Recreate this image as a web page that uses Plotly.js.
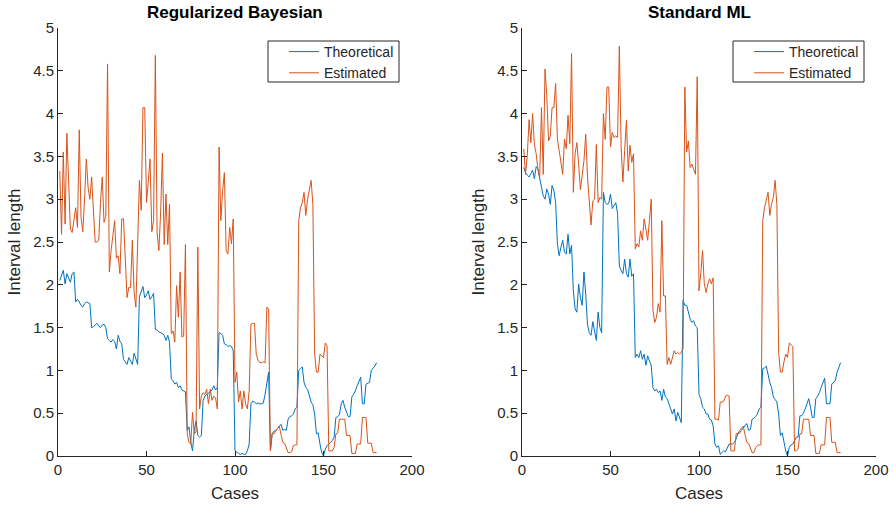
<!DOCTYPE html>
<html>
<head>
<meta charset="utf-8">
<script src="https://cdn.plot.ly/plotly-3.0.1.min.js"></script>
<style>html,body{margin:0;padding:0;background:#fff;}#chart{width:894px;height:506px;}</style>
</head>
<body>
<div id="chart"></div>
<script>
// Regularized Bayesian - Theoretical
const bayesTheoretical = [
 2.05,2.12,2.17,2.01,2.13,2.08,2.03,2.13,2.15,1.80,
 1.83,1.80,1.76,1.74,1.78,1.80,1.79,1.78,1.50,1.51,
 1.53,1.55,1.52,1.50,1.53,1.54,1.50,1.37,1.35,1.33,
 1.36,1.34,1.25,1.41,1.34,1.31,1.13,1.10,1.07,1.15,
 1.10,1.07,1.20,1.12,1.07,1.86,1.92,1.98,1.85,1.88,
 1.93,1.83,1.86,1.90,1.48,1.47,1.45,1.44,1.43,1.41,
 1.35,1.41,1.33,0.90,0.88,0.84,0.86,0.80,0.82,0.77,
 0.76,0.75,0.30,0.34,0.16,0.06,0.30,0.41,0.24,0.22,
 0.24,0.65,0.70,0.72,0.74,0.76,0.77,0.82,0.77,0.80,
 1.44,1.43,1.41,1.31,1.30,1.28,1.29,1.28,1.23,0.06,
 0.04,0.03,0.02,0.03,0.02,0.02,0.06,0.14,0.61,0.64,
 0.63,0.61,0.62,0.61,0.61,0.62,0.72,0.84,0.98,0.06,
 0.26,0.29,0.30,0.32,0.35,0.37,0.30,0.31,0.30,0.43,
 0.46,0.47,0.49,0.55,0.57,1.00,1.02,1.04,0.86,0.80,
 0.78,0.69,0.63,0.60,0.49,0.26,0.27,0.14,0.04,0.00,
 0.08,0.12,0.14,0.16,0.18,0.22,0.45,0.46,0.48,0.61,
 0.65,0.57,0.50,0.46,0.46,0.69,0.72,0.76,0.82,0.88,
 0.92,0.61,0.61,0.84,0.85,0.86,1.00,1.02,1.05,1.09];

// Regularized Bayesian - Estimated
const bayesEstimated = [
 3.33,2.59,3.55,2.71,3.77,3.06,2.65,2.61,2.75,2.90,
 2.67,3.81,2.79,2.62,3.00,3.47,3.14,3.00,3.26,2.90,
 2.50,2.50,2.52,2.96,3.26,2.73,2.80,4.58,2.15,2.40,
 2.55,2.75,2.31,2.34,2.13,2.77,2.77,2.20,1.85,1.97,
 1.97,2.52,1.91,1.74,2.40,3.22,2.87,4.07,4.07,2.96,
 3.20,3.47,2.62,2.75,4.68,2.60,2.40,2.85,3.54,2.47,
 3.06,2.47,2.94,1.43,1.46,1.33,1.99,1.62,2.15,1.39,
 1.40,2.47,0.26,0.16,0.14,0.51,0.26,0.28,2.44,0.55,
 0.70,0.74,0.72,0.78,0.61,0.78,0.65,0.70,0.68,0.55,
 3.61,2.75,3.10,3.31,2.40,2.36,2.67,2.48,2.77,0.86,
 0.98,0.63,0.76,0.55,0.76,0.61,0.55,0.76,1.54,1.55,
 1.55,1.19,1.12,1.09,1.09,1.10,1.09,1.74,1.72,0.06,
 0.26,0.26,0.29,0.32,0.35,0.25,0.16,0.15,0.10,0.04,
 0.04,0.05,0.12,0.13,0.13,2.75,2.90,2.96,3.08,2.81,
 3.00,3.10,3.22,2.94,1.19,0.98,0.98,1.19,1.17,1.15,
 1.32,1.29,0.06,0.06,0.06,0.10,0.26,0.27,0.43,0.43,
 0.43,0.43,0.24,0.24,0.24,0.03,0.03,0.03,0.14,0.14,
 0.14,0.45,0.45,0.45,0.15,0.15,0.15,0.04,0.04,0.04];

// Standard ML - Theoretical
const mlTheoretical = [
 3.37,3.31,3.28,3.26,3.30,3.34,3.24,3.38,3.35,3.26,
 3.14,3.04,3.00,3.12,3.06,2.94,3.16,3.10,2.96,2.48,
 2.34,2.44,2.52,2.38,2.36,2.59,2.36,2.46,1.93,1.72,
 1.68,2.01,1.85,1.76,2.15,1.89,1.54,1.44,1.41,1.57,
 1.43,1.35,1.68,1.50,1.44,3.08,2.96,2.94,2.95,3.06,
 2.89,2.92,2.96,2.83,2.22,2.17,2.13,2.30,2.13,2.09,
 2.30,2.10,2.13,1.15,1.19,1.15,1.23,1.13,1.19,1.06,
 1.17,1.11,1.06,0.80,0.76,0.78,0.74,0.76,0.65,0.78,
 0.69,0.67,0.61,0.55,0.49,0.55,0.41,0.51,0.45,0.39,
 1.82,1.76,1.76,1.66,1.60,1.56,1.58,1.52,1.50,0.72,
 0.67,0.57,0.55,0.49,0.49,0.43,0.42,0.35,0.14,0.10,
 0.12,0.02,0.04,0.06,0.05,0.09,0.14,0.14,0.14,0.16,
 0.20,0.26,0.27,0.30,0.33,0.35,0.38,0.30,0.31,0.43,
 0.44,0.46,0.49,0.55,0.57,1.02,1.03,1.05,0.95,0.86,
 0.80,0.69,0.66,0.63,0.49,0.24,0.27,0.14,0.06,0.00,
 0.10,0.13,0.14,0.18,0.22,0.22,0.47,0.47,0.50,0.55,
 0.61,0.67,0.57,0.45,0.45,0.67,0.70,0.74,0.80,0.86,
 0.91,0.61,0.61,0.61,0.84,0.86,0.88,0.98,1.05,1.09];

// Standard ML - Estimated
const mlEstimated = [
 3.59,3.29,3.51,3.93,3.66,4.00,3.64,3.53,3.35,3.26,
 4.07,3.29,4.52,4.21,3.68,3.74,4.07,4.07,4.35,3.70,
 3.57,3.40,3.29,3.70,3.59,3.98,3.65,4.70,3.08,3.53,
 3.66,3.41,3.11,3.28,3.45,3.76,3.26,2.98,2.70,2.98,
 3.00,3.64,2.96,3.02,3.00,4.00,3.70,4.31,4.31,3.61,
 3.78,3.72,3.74,3.72,4.79,3.61,3.20,3.57,3.92,3.33,
 3.63,3.43,3.53,2.42,2.48,2.44,2.63,2.52,2.77,2.65,
 2.52,2.75,3.00,1.70,1.56,1.62,1.78,1.68,2.75,1.87,
 1.87,1.07,1.15,1.07,1.17,1.23,1.19,1.21,1.19,1.21,
 1.25,4.31,3.55,3.68,3.37,3.41,3.35,3.29,4.43,1.93,
 2.13,2.40,2.01,1.91,2.01,2.07,2.01,2.08,0.43,0.43,
 0.42,0.63,0.63,0.64,0.70,0.71,0.70,0.06,0.06,0.06,
 0.26,0.26,0.30,0.33,0.35,0.25,0.16,0.15,0.10,0.04,
 0.04,0.10,0.12,0.13,0.13,2.75,2.90,2.98,3.08,2.81,
 2.95,3.02,3.22,2.94,1.21,0.98,0.98,1.10,1.19,1.15,
 1.32,1.30,1.28,0.06,0.06,0.08,0.26,0.26,0.43,0.43,
 0.43,0.43,0.24,0.24,0.24,0.03,0.03,0.03,0.13,0.13,
 0.13,0.45,0.45,0.45,0.16,0.16,0.16,0.04,0.04,0.04];

const seriesNames = ['Theoretical', 'Estimated'];
const panelTitles = ['Regularized Bayesian', 'Standard ML'];
const xTicks = [0, 50, 100, 150, 200];
const yTicks = [0, 0.5, 1, 1.5, 2, 2.5, 3, 3.5, 4, 4.5, 5];

const BLUE = '#0072BD', ORANGE = '#D95319', INK = '#262626';
const FONT = 'Liberation Sans, Arial, Helvetica, sans-serif';

function line(y, name, color, xa, ya, leg) {
  return {type: 'scatter', mode: 'lines', x0: 1, dx: 1, y: y, name: name,
    xaxis: xa, yaxis: ya, legend: leg,
    line: {color: color, width: 1}, hoverinfo: 'skip'};
}

const traces = [
  line(bayesTheoretical, seriesNames[0], BLUE, 'x', 'y', 'legend'),
  line(bayesEstimated, seriesNames[1], ORANGE, 'x', 'y', 'legend'),
  line(mlTheoretical, seriesNames[0], BLUE, 'x2', 'y2', 'legend2'),
  line(mlEstimated, seriesNames[1], ORANGE, 'x2', 'y2', 'legend2')
];

const W = 894, H = 506;
function xax(d0, d1, anchor) {
  return {domain: [d0 / W, d1 / W], anchor: anchor, range: [0, 200], tickvals: xTicks,
    ticks: 'inside', ticklen: 5, tickwidth: 1, tickcolor: INK, showline: true, linecolor: INK,
    linewidth: 1, mirror: false, showgrid: false, zeroline: false,
    tickfont: {size: 15, color: INK, family: FONT},
    title: {text: 'Cases', font: {size: 17, color: INK, family: FONT}, standoff: 10},
    automargin: false};
}
function yax(anchor) {
  return {domain: [1 - 456 / H, 1 - 28 / H], anchor: anchor, range: [0, 5], tickvals: yTicks,
    ticktext: yTicks.map(String),
    ticks: 'inside', ticklen: 5, tickwidth: 1, tickcolor: INK, showline: true, linecolor: INK,
    linewidth: 1, mirror: false, showgrid: false, zeroline: false,
    tickfont: {size: 15, color: INK, family: FONT},
    title: {text: 'Interval length', font: {size: 17, color: INK, family: FONT}, standoff: 8},
    automargin: false};
}
function leg(xpx) {
  return {x: xpx / W, y: 1 - 36 / H, xanchor: 'left', yanchor: 'top', bgcolor: 'rgba(0,0,0,0)',
    borderwidth: 0, font: {size: 14, color: INK, family: FONT},
    tracegroupgap: 0, traceorder: 'normal'};
}
function box(x0, x1) {
  return {type: 'rect', xref: 'paper', yref: 'paper', x0: x0 / W, x1: x1 / W,
    y0: 1 - 82 / H, y1: 1 - 41 / H, line: {color: INK, width: 1}, fillcolor: '#ffffff', layer: 'above'};
}

const layout = {
  width: W, height: H, margin: {l: 0, r: 0, t: 0, b: 0},
  paper_bgcolor: '#ffffff', plot_bgcolor: '#ffffff',
  font: {family: FONT, color: INK},
  showlegend: true,
  xaxis: xax(58, 412, 'y'), yaxis: yax('x'),
  xaxis2: xax(522, 876, 'y2'), yaxis2: yax('x2'),
  legend: leg(284), legend2: leg(749),
  shapes: [box(268, 399), box(733, 864)],
  annotations: [
    {text: '<b>' + panelTitles[0] + '</b>', xref: 'paper', yref: 'paper', x: 235 / W, y: 1 - 13 / H,
      xanchor: 'center', yanchor: 'middle', showarrow: false, font: {size: 17, color: '#000', family: FONT}},
    {text: '<b>' + panelTitles[1] + '</b>', xref: 'paper', yref: 'paper', x: 699 / W, y: 1 - 13 / H,
      xanchor: 'center', yanchor: 'middle', showarrow: false, font: {size: 17, color: '#000', family: FONT}}
  ]
};

Plotly.newPlot('chart', traces, layout, {staticPlot: true, displayModeBar: false});
</script>
</body>
</html>
